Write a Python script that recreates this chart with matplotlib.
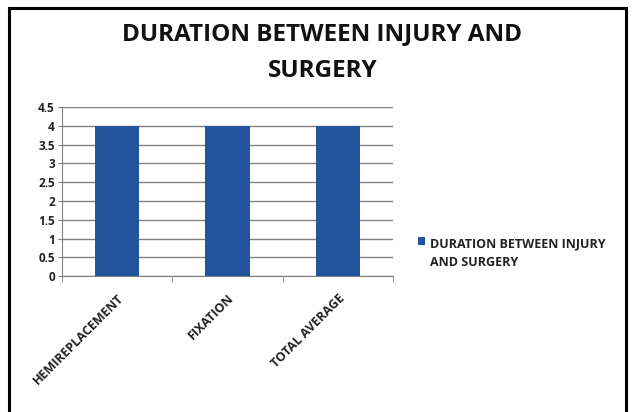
import matplotlib
matplotlib.use("Agg")
import matplotlib.pyplot as plt
from matplotlib.patches import Rectangle

# data
categories = ["HEMIREPLACEMENT", "FIXATION", "TOTAL AVERAGE"]
values = [4, 4, 4]
series_name = "DURATION BETWEEN INJURY\nAND SURGERY"
title = "DURATION BETWEEN INJURY AND\nSURGERY"
yticks = [0, 0.5, 1, 1.5, 2, 2.5, 3, 3.5, 4, 4.5]

plt.rcParams['font.family'] = ['Open Sans', 'DejaVu Sans']

fig = plt.figure(figsize=(6.32, 4.12), dpi=100)
fig.patch.set_facecolor("white")

# black frame around the chart
fig.add_artist(Rectangle((0.015, -0.01), 0.975, 0.99, transform=fig.transFigure,
                         fill=False, edgecolor="black", linewidth=2.2))

ax = fig.add_axes([0.098, 0.330, 0.524, 0.410])

x = range(len(categories))
ax.bar(x, values, width=0.4, color="#22559c", label=series_name, zorder=3)

ax.set_xlim(-0.5, len(categories) - 0.5)
ax.set_ylim(0, 4.5)
ax.set_yticks(yticks)
ax.set_yticklabels([f"{v:g}" for v in yticks], fontsize=8.5, fontweight="bold",
                   color="#222222")
ax.yaxis.grid(True, color="#808080", linewidth=1.0, zorder=0)

ax.set_xticks(list(x))
ax.set_xticklabels(categories, rotation=45, ha="right", rotation_mode="anchor",
                   fontsize=9, fontweight="bold", color="#222222")
ax.tick_params(axis="x", length=0, pad=11)
# tick marks between categories
ax.set_xticks([-0.5, 0.5, 1.5, 2.5], minor=True)
ax.tick_params(axis="x", which="minor", length=4, color="#808080")
ax.tick_params(axis="y", length=3, color="#808080", pad=2)

for s in ["top", "right"]:
    ax.spines[s].set_visible(False)
for s in ["left", "bottom"]:
    ax.spines[s].set_color("#808080")

fig.text(0.51, 0.872, title, ha="center", va="center", fontsize=17.5,
         fontweight="bold", linespacing=1.7, color="#111111")

leg = ax.legend(loc="center left", bbox_to_anchor=(1.04, 0.135), frameon=False,
                handlelength=0.6, handleheight=0.6, handletextpad=0.4,
                prop={"weight": "bold", "size": 9})
for t in leg.get_texts():
    t.set_linespacing(1.6)
    t.set_color("#222222")
# put the square next to the first line, like Excel does
for col in leg._legend_handle_box.get_children():
    for row in col.get_children():
        row.align = "top"

fig.savefig("out.png", dpi=100)
